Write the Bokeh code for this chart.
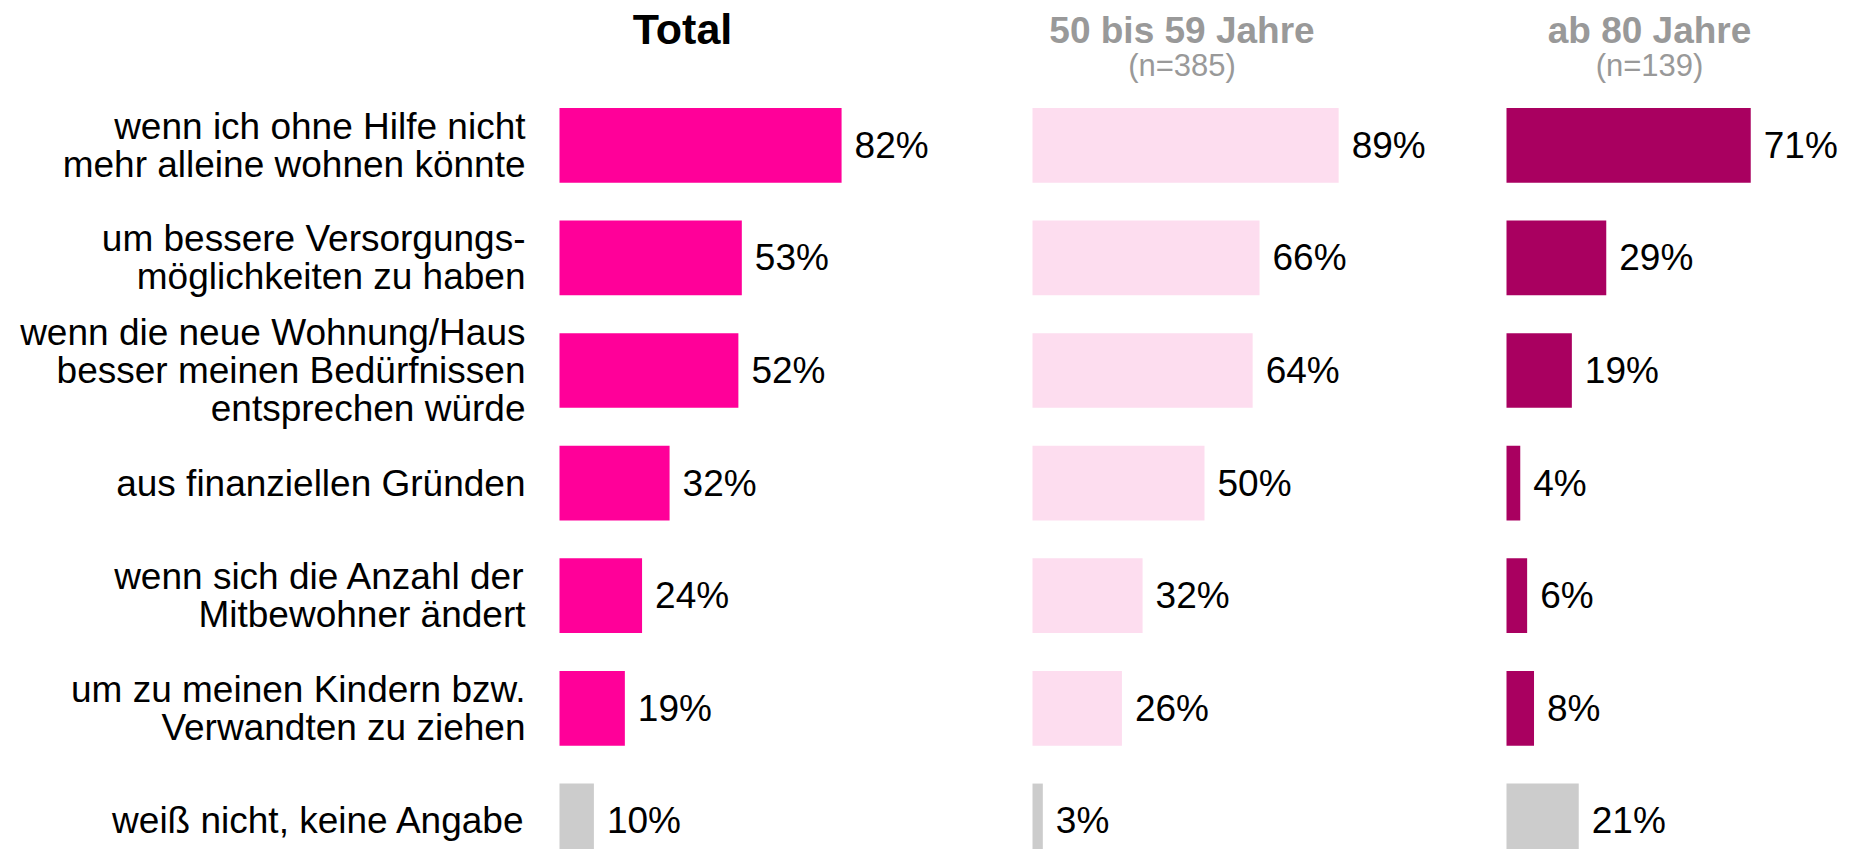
from bokeh.plotting import figure
from bokeh.models import Range1d, ColumnDataSource
from bokeh.core.properties import value
from bokeh.embed import file_html
from bokeh.resources import INLINE

# ---------------- data ----------------
categories = [
    "wenn ich ohne Hilfe nicht\nmehr alleine wohnen könnte",
    "um bessere Versorgungs-\nmöglichkeiten zu haben",
    "wenn die neue Wohnung/Haus\nbesser meinen Bedürfnissen\nentsprechen würde",
    "aus finanziellen Gründen",
    "wenn sich die Anzahl der\nMitbewohner ändert",
    "um zu meinen Kindern bzw.\nVerwandten zu ziehen",
    "weiß nicht, keine Angabe",
]
total_vals = [82, 53, 52, 32, 24, 19, 10]
age_50_59_vals = [89, 66, 64, 50, 32, 26, 3]
age_80_vals = [71, 29, 19, 4, 6, 8, 21]

panel_titles = ["Total", "50 bis 59 Jahre", "ab 80 Jahre"]
panel_n = ["", "(n=385)", "(n=139)"]
panel_colors = ["#FF0099", "#FDDDEF", "#A90060"]
na_color = "#CCCCCC"

# ---------------- layout constants ----------------
W, H = 1838, 849
PX = 3.44          # pixels per percentage point
ROW = 112.6        # pixels per row
y_top = 144.8 / ROW
y_bottom = y_top - H / ROW
panel_start = [559 / PX, 1032 / PX, 1506 / PX]
title_center = [682 / PX, 1181.5 / PX, 1649 / PX]
label_right = 525 / PX
gap = 13 / PX
FONT = "Liberation Sans"

p = figure(width=W, height=H, output_backend="svg", toolbar_location=None,
           x_range=Range1d(0, W / PX), y_range=Range1d(y_bottom, y_top),
           min_border=0, min_border_left=0, min_border_right=0,
           min_border_top=0, min_border_bottom=0)
p.axis.visible = False
p.xgrid.visible = False
p.ygrid.visible = False
p.outline_line_color = None
p.background_fill_color = "white"
p.border_fill_color = "white"

rows = [-i for i in range(len(categories))]

# category labels
p.text(x=[label_right] * len(categories), y=rows, text=categories,
       text_align="right", text_baseline="middle",
       text_font=value(FONT), text_font_size="37px", text_color="#000000",
       text_line_height=0.93)

series = [total_vals, age_50_59_vals, age_80_vals]
for k, vals in enumerate(series):
    off = panel_start[k]
    colors = [panel_colors[k]] * (len(vals) - 1) + [na_color]
    src = ColumnDataSource(dict(
        y=rows,
        left=[off] * len(vals),
        right=[off + v for v in vals],
        lx=[off + v + gap for v in vals],
        lab=[f"{v}%" for v in vals],
        color=colors,
    ))
    p.hbar(y="y", left="left", right="right", height=0.663, source=src,
           fill_color="color", line_color=None)
    p.text(x="lx", y="y", text="lab", source=src, text_align="left",
           text_baseline="middle", text_font=value(FONT),
           text_font_size="37px", text_color="#000000")

# panel titles
def ypix(px):
    return y_top - px / ROW

p.text(x=[title_center[0]], y=[ypix(28.5)], text=[panel_titles[0]],
       text_align="center", text_baseline="middle",
       text_font=value(FONT), text_font_size="43px",
       text_font_style="bold", text_color="#000000")
p.text(x=title_center[1:], y=[ypix(29.5)] * 2, text=panel_titles[1:],
       text_align="center", text_baseline="middle",
       text_font=value(FONT), text_font_size="37px",
       text_font_style="bold", text_color="#999999")
p.text(x=title_center[1:], y=[ypix(64.5)] * 2, text=panel_n[1:],
       text_align="center", text_baseline="middle",
       text_font=value(FONT), text_font_size="31px",
       text_color="#999999")

open("out.html", "w").write(file_html(p, INLINE))
